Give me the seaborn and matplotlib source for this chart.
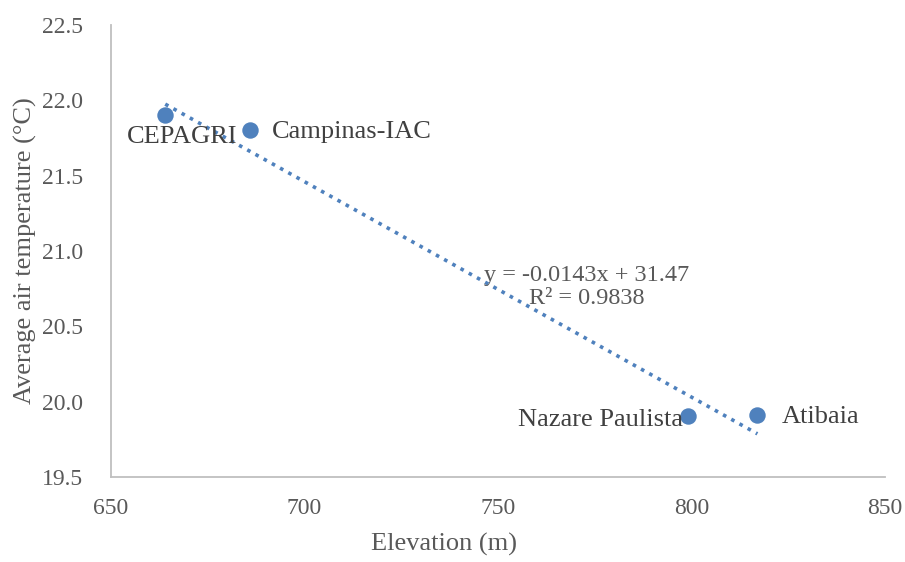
import matplotlib
matplotlib.use("Agg")
import matplotlib.pyplot as plt
import seaborn as sns
import numpy as np
import pandas as pd
from matplotlib.ticker import FormatStrFormatter

stations = ["CEPAGRI", "Campinas-IAC", "Nazare Paulista", "Atibaia"]
elevation = [664, 686, 799, 817]
temperature = [21.90, 21.80, 19.905, 19.91]
slope = -0.0143
intercept = 31.47
r2 = 0.9838
x_ticks = [650, 700, 750, 800, 850]
y_ticks = [19.5, 20.0, 20.5, 21.0, 21.5, 22.0, 22.5]

df = pd.DataFrame({"station": stations, "elevation": elevation, "temperature": temperature})

sns.set_theme(style="white")
plt.rcParams['font.family'] = ['Liberation Serif', 'DejaVu Serif']

gray = "#595959"
blue = "#4F81BD"

fig = plt.figure(figsize=(9.05, 5.62), dpi=100)
ax = fig.add_axes([0.1227, 0.1512, 0.8553, 0.8043])

# trendline
xs = np.array([min(elevation), max(elevation)])
ax.plot(xs, slope * xs + intercept, linestyle=(0, (1, 1.6)), color=blue, linewidth=2.6, zorder=1)

sns.scatterplot(data=df, x="elevation", y="temperature", ax=ax, color=blue, s=140,
                edgecolor=blue, linewidth=0, zorder=3)

offsets = {"CEPAGRI": (17, -22, "center"), "Campinas-IAC": (22, -2, "left"),
           "Nazare Paulista": (-5, -4, "right"), "Atibaia": (24, -2, "left")}
for s, xv, yv in zip(stations, elevation, temperature):
    dx, dy, ha = offsets[s]
    ax.annotate(s, (xv, yv), xytext=(dx, dy), textcoords="offset pixels",
                ha=ha, va="center", fontsize=19, color="#404040", zorder=4)

ax.text(773, 20.76, f"y = {slope}x + {intercept}\nR² = {r2}", ha="center", va="center",
        fontsize=17.5, color=gray, linespacing=1.1, zorder=4)

ax.set_xlim(650, 850)
ax.set_ylim(19.5, 22.5)
ax.set_xticks(x_ticks)
ax.set_yticks(y_ticks)
ax.yaxis.set_major_formatter(FormatStrFormatter("%.1f"))
ax.tick_params(axis="both", labelsize=17, colors=gray, length=0)
ax.tick_params(axis="y", pad=20)
ax.tick_params(axis="x", pad=15)
ax.set_xlabel("Elevation (m)", fontsize=19, color=gray)
ax.xaxis.set_label_coords(0.430, -0.150)
ax.xaxis.label.set_va("center")
ax.set_ylabel("Average air temperature (°C)", fontsize=19, color=gray, labelpad=4)

for side in ["top", "right"]:
    ax.spines[side].set_visible(False)
for side in ["left", "bottom"]:
    ax.spines[side].set_color("#BFBFBF")
    ax.spines[side].set_linewidth(1.3)

fig.savefig("out.png", dpi=100)
